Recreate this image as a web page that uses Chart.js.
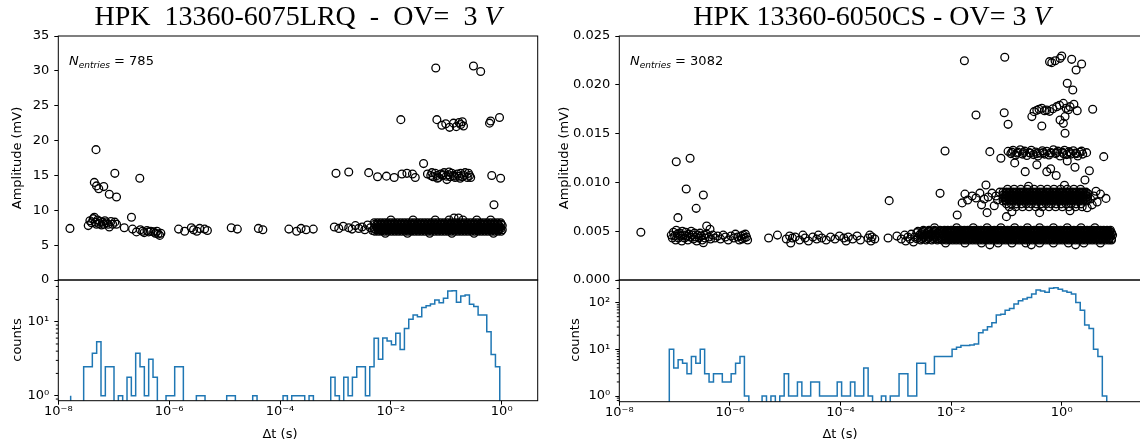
<!DOCTYPE html>
<html>
<head>
<meta charset="utf-8">
<script src="https://cdn.jsdelivr.net/npm/chart.js@4.4.1/dist/chart.umd.min.js"></script>
<style>
  body { margin: 0; width: 1140px; height: 448px; overflow: hidden; background: #fff; position: relative; }
  canvas { position: absolute; }
  .txt { position: absolute; font-family: "DejaVu Sans", sans-serif; font-size: 13px; line-height: 15px; color: #000; white-space: nowrap; }
  .rot { transform: translate(-50%, -50%) rotate(-90deg); }
  .mid { transform: translate(-50%, -50%); }
  .title { position: absolute; font-family: "Liberation Serif", serif; font-size: 28px; line-height: 28px; white-space: pre; transform: translateX(-50%); color: #000; }
  .n sub { font-size: 9px; font-style: italic; vertical-align: -3px; line-height: 0; }
</style>
</head>
<body>
<canvas id="scatL" width="560" height="294" style="left:0;top:0"></canvas>
<canvas id="histL" width="560" height="182" style="left:0;top:266px"></canvas>
<canvas id="scatR" width="600" height="294" style="left:560px;top:0"></canvas>
<canvas id="histR" width="600" height="182" style="left:560px;top:266px"></canvas>

<div class="title" style="left:298px;top:2px">HPK  13360-6075LRQ  -  OV=  3 <i>V</i></div>
<div class="title" style="left:872px;top:2px">HPK 13360-6050CS - OV= 3 <i>V</i></div>
<div class="txt rot" style="left:16px;top:158px">Amplitude (mV)</div>
<div class="txt rot" style="left:16px;top:340px">counts</div>
<div class="txt mid" style="left:280px;top:433px">Δt (s)</div>
<div class="txt rot" style="left:563px;top:158px">Amplitude (mV)</div>
<div class="txt rot" style="left:574px;top:340px">counts</div>
<div class="txt mid" style="left:840px;top:433px">Δt (s)</div>
<div class="txt n" style="left:69px;top:53px"><i>N</i><sub>entries</sub> = 785</div>
<div class="txt n" style="left:630px;top:53px"><i>N</i><sub>entries</sub> = 3082</div>

<script>
// ---- data: scattered points as [log10(dt), amplitude] ----
const leftEarly = [
  [-7.79,7.4],[-7.46,7.8],[-7.43,8.5],[-7.40,8.2],[-7.37,8.8],[-7.35,9.0],[-7.33,8.3],[-7.31,8.0],[-7.29,8.6],[-7.27,8.1],
  [-7.25,8.4],[-7.22,7.9],[-7.20,8.3],[-7.18,8.0],[-7.16,8.5],[-7.13,8.2],[-7.10,8.0],[-7.08,7.6],[-7.05,8.4],[-7.02,8.0],
  [-6.98,8.3],[-6.95,8.0],[-7.32,18.7],[-7.35,14.0],[-7.31,13.5],[-7.27,13.1],[-7.18,13.4],[-7.08,12.3],[-6.95,11.9],
  [-6.98,15.3],[-6.53,14.6],[-6.68,9.0],[-6.81,7.5],[-6.66,7.3],[-6.59,6.9],[-6.52,7.2],[-6.48,7.0],[-6.45,6.8],[-6.40,7.1],
  [-6.37,6.9],[-6.33,7.0],[-6.28,6.9],[-6.25,6.7],[-6.22,7.0],[-6.20,6.6],[-6.17,6.4],[-6.15,6.7]
];
const leftMid = [
  [-5.83,7.3],[-5.72,7.0],[-5.60,7.5],[-5.56,7.2],[-5.50,7.0],[-5.45,7.4],[-5.36,7.3],[-5.31,7.1],[-4.88,7.5],[-4.77,7.3],
  [-4.39,7.4],[-4.31,7.2],[-3.84,7.3],[-3.70,7.0],[-3.62,7.4],[-3.53,7.2],[-3.40,7.3],
  [-2.99,15.3],[-2.76,15.5],[-3.02,7.6],[-2.94,7.4],[-2.86,7.7],[-2.76,7.5],[-2.70,7.3],[-2.64,7.8],[-2.58,7.4],[-2.52,7.6],
  [-2.47,7.2],[-2.42,7.9],[-2.37,7.5],[-2.33,7.1]
];
const leftUpper = [
  [-2.40,15.4],[-2.24,14.8],[-2.08,14.9],[-1.94,14.7],[-1.80,15.2],[-1.71,15.3],[-1.61,15.2],[-1.56,14.7],[-1.41,16.7],
  [-1.34,15.2],[-1.28,15.0],[-1.24,14.8],[-1.20,15.3],[-1.17,15.0],[-1.14,14.7],[-1.10,15.2],[-1.07,15.0],[-1.04,15.4],
  [-1.00,14.9],[-0.99,14.4],[-0.96,15.1],[-0.93,14.8],[-0.90,15.3],[-0.87,15.0],[-0.84,14.7],[-0.80,15.2],[-0.77,14.9],
  [-0.74,15.3],[-0.71,14.8],[-0.68,15.0],[-0.62,14.7],[-0.60,15.3],[-0.58,15.0],[-0.18,15.0],[-0.02,14.6],[-0.14,10.8],
  [-1.26,15.4],[-1.16,14.6],[-1.06,15.1],[-0.95,15.5],[-0.85,14.9],[-0.75,14.6],[-0.66,15.4],[-0.56,14.7],
  [-0.86,8.9],[-0.78,8.9],
  [-1.82,23.0],[-1.17,23.0],[-1.08,22.2],[-1.01,22.4],[-0.94,21.9],[-0.87,22.5],[-0.82,22.0],[-0.77,22.6],[-0.74,22.3],
  [-0.71,22.7],[-0.69,22.1],[-0.22,22.5],[-0.20,22.8],[-0.04,23.3],[-1.19,30.4],[-0.51,30.7],[-0.38,29.9]
];
// log10(dt) positions inside the dense left band
const lbX1 = [-2.30,-2.24,-2.18,-2.12,-2.06,-2.00,-1.94,-1.88,-1.82,-1.76,-1.70,-1.64,-1.58,-1.52,-1.46,-1.40,-1.34,-1.28,-1.22,-1.16,
  -1.10,-1.04,-0.98,-0.92,-0.86,-0.80,-0.74,-0.68,-0.62,-0.56,-0.50,-0.44,-0.38,-0.32,-0.26,-0.20,-0.14,-0.08,-0.02];
const lbX2 = [-2.27,-2.21,-2.15,-2.09,-2.03,-1.97,-1.91,-1.85,-1.79,-1.73,-1.67,-1.61,-1.55,-1.49,-1.43,-1.37,-1.31,-1.25,-1.19,-1.13,
  -1.07,-1.01,-0.95,-0.89,-0.83,-0.77,-0.71,-0.65,-0.59,-0.53,-0.47,-0.41,-0.35,-0.29,-0.23,-0.17,-0.11,-0.05,0.01];
const lbX3 = [-2.29,-2.23,-2.17,-2.11,-2.05,-1.99,-1.93,-1.87,-1.81,-1.75,-1.69,-1.63,-1.57,-1.51,-1.45,-1.39,-1.33,-1.27,-1.21,-1.15,
  -1.09,-1.03,-0.97,-0.91,-0.85,-0.79,-0.73,-0.67,-0.61,-0.55,-0.49,-0.43,-0.37,-0.31,-0.25,-0.19,-0.13,-0.07,-0.01];
const lbX4 = [-2.25,-2.19,-2.13,-2.07,-2.01,-1.95,-1.89,-1.83,-1.77,-1.71,-1.65,-1.59,-1.53,-1.47,-1.41,-1.35,-1.29,-1.23,-1.17,-1.11,
  -1.05,-0.99,-0.93,-0.87,-0.81,-0.75,-0.69,-0.63,-0.57,-0.51,-0.45,-0.39,-0.33,-0.27,-0.21,-0.15,-0.09,-0.03];
// [amplitude, log10(dt) list]
const leftBandRows = [
  [8.6, [-2.00,-1.60,-1.20,-0.95,-0.70,-0.45,-0.20]],
  [8.2, lbX1], [8.0, lbX3], [7.8, lbX2], [7.6, lbX4], [7.4, lbX1], [7.2, lbX2], [7.0, lbX3],
  [6.7, [-2.10,-1.70,-1.30,-0.90,-0.50,-0.15]]
];

const rightEarly = [
  [-7.61,.00489],[-6.97,.01212],[-6.72,.01247],[-6.79,.00932],[-6.48,.00871],[-6.61,.00734],[-6.94,.00639],[-6.42,.00553],
  [-6.36,.0052],[-6.48,.00382],
  [-7.06,.0046],[-7.04,.0043],[-7.02,.0049],[-7.00,.0045],[-6.98,.0041],[-6.97,.0051],[-6.95,.0047],[-6.93,.0043],[-6.91,.0048],
  [-6.89,.0045],[-6.87,.0040],[-6.86,.0050],[-6.84,.0046],[-6.82,.0043],[-6.80,.0049],[-6.78,.0045],[-6.76,.0041],[-6.74,.0047],
  [-6.72,.0044],[-6.70,.0050],[-6.68,.0046],[-6.66,.0042],[-6.64,.0048],[-6.62,.0044],[-6.60,.0040],[-6.58,.0046],[-6.56,.0043],
  [-6.54,.0048],[-6.52,.0045],[-6.50,.0041],[-6.47,.0046],[-6.45,.0043],[-6.42,.0047],[-6.38,.0044],[-6.35,.0042],[-6.31,.0046],
  [-6.27,.0043],[-6.22,.0045],[-6.17,.0042],[-6.12,.0046],[-6.08,.0044],[-6.03,.0041],[-5.98,.0045],[-5.93,.0043],[-5.90,.0047],
  [-5.86,.0044],[-5.83,.0041],[-5.80,.0045],[-5.78,.0042],[-5.76,.0046],[-5.74,.0043],[-5.72,.0047],[-5.70,.0044],[-5.68,.0041]
];
const rightMid = [
  [-5.30,.0043],[-5.14,.0046],[-4.98,.0042],[-4.92,.0045],[-4.90,.0038],[-4.87,.0043],[-4.82,.0044],[-4.74,.0041],[-4.68,.0046],
  [-4.64,.0043],[-4.58,.0040],[-4.50,.0044],[-4.43,.0042],[-4.40,.0046],[-4.34,.0043],[-4.26,.0041],[-4.18,.0044],[-4.10,.0042],
  [-4.02,.0045],[-3.94,.0043],[-3.90,.0040],[-3.86,.0044],[-3.78,.0042],[-3.70,.0045],[-3.64,.0041],[-3.50,.0043],[-3.47,.0046],
  [-3.45,.0040],[-3.43,.0044],[-3.38,.0042],[-3.14,.0043],[-3.12,.00813],[-2.98,.0045],[-2.90,.0042],[-2.84,.0046],[-2.82,.0040],
  [-2.78,.0044],[-2.74,.0042],[-2.72,.0047],[-2.68,.0039],[-2.66,.0044],
  [-2.20,.00888],[-1.89,.00666],[-1.76,.02247],[-2.11,.01322],[-1.55,.0169],[-1.30,.01315],[-1.10,.01247],[-1.03,.02282],
  [-1.04,.01714],[-0.97,.01595],[-1.37,.00973],[-1.35,.0069],[-1.00,.00649]
];
// log10(dt) positions inside the dense bottom band of the right panel
const rlA = [-2.62,-2.52,-2.42,-2.32,-2.24,-2.17,-2.11,-2.05,-2.00,-1.95,-1.90,-1.85,-1.80,-1.75,-1.70,-1.65,-1.60,-1.55,-1.50,-1.45,
  -1.40,-1.35,-1.30,-1.25,-1.20,-1.15,-1.10,-1.05,-1.00,-0.95,-0.90,-0.85,-0.80,-0.75,-0.70,-0.65,-0.60,-0.55,-0.50,-0.45,
  -0.40,-0.35,-0.30,-0.25,-0.20,-0.15,-0.10,-0.05,0.00,0.05,0.10,0.15,0.20,0.25,0.30,0.35,0.40,0.45,0.50,0.55,
  0.60,0.65,0.70,0.75,0.80,0.85,0.90];
const rlB = [-2.57,-2.47,-2.37,-2.28,-2.21,-2.14,-2.08,-2.02,-1.97,-1.92,-1.87,-1.82,-1.77,-1.72,-1.67,-1.62,-1.57,-1.52,-1.47,-1.42,
  -1.37,-1.32,-1.27,-1.22,-1.17,-1.12,-1.07,-1.02,-0.97,-0.92,-0.87,-0.82,-0.77,-0.72,-0.67,-0.62,-0.57,-0.52,-0.47,-0.42,
  -0.37,-0.32,-0.27,-0.22,-0.17,-0.12,-0.07,-0.02,0.03,0.08,0.13,0.18,0.23,0.28,0.33,0.38,0.43,0.48,0.53,0.58,
  0.63,0.68,0.73,0.78,0.83,0.88,0.92];
const rlC = [-2.60,-2.50,-2.40,-2.30,-2.22,-2.15,-2.09,-2.03,-1.98,-1.93,-1.88,-1.83,-1.78,-1.73,-1.68,-1.63,-1.58,-1.53,-1.48,-1.43,
  -1.38,-1.33,-1.28,-1.23,-1.18,-1.13,-1.08,-1.03,-0.98,-0.93,-0.88,-0.83,-0.78,-0.73,-0.68,-0.63,-0.58,-0.53,-0.48,-0.43,
  -0.38,-0.33,-0.28,-0.23,-0.18,-0.13,-0.08,-0.03,0.02,0.07,0.12,0.17,0.22,0.27,0.32,0.37,0.42,0.47,0.52,0.57,
  0.62,0.67,0.72,0.77,0.82,0.87];
const rlD = [-2.50,-2.40,-2.30,-2.20,-2.12,-2.06,-2.00,-1.94,-1.88,-1.82,-1.76,-1.70,-1.64,-1.58,-1.52,-1.46,-1.40,-1.34,-1.28,-1.22,
  -1.16,-1.10,-1.04,-0.98,-0.92,-0.86,-0.80,-0.74,-0.68,-0.62,-0.56,-0.50,-0.44,-0.38,-0.32,-0.26,-0.20,-0.14,-0.08,-0.02,
  0.04,0.10,0.16,0.22,0.28,0.34,0.40,0.46,0.52,0.58,0.64,0.70,0.76,0.82,0.88];
const rlE = [-2.55,-2.45,-2.35,-2.25,-2.16,-2.09,-2.03,-1.97,-1.91,-1.85,-1.79,-1.73,-1.67,-1.61,-1.55,-1.49,-1.43,-1.37,-1.31,-1.25,
  -1.19,-1.13,-1.07,-1.01,-0.95,-0.89,-0.83,-0.77,-0.71,-0.65,-0.59,-0.53,-0.47,-0.41,-0.35,-0.29,-0.23,-0.17,-0.11,-0.05,
  0.01,0.07,0.13,0.19,0.25,0.31,0.37,0.43,0.49,0.55,0.61,0.67,0.73,0.79,0.85,0.90];
const rightLowRows = [
  [0.00535, [-2.30,-1.90,-1.60,-1.35,-1.10,-0.85,-0.62,-0.40,-0.15,0.10,0.35,0.60]],
  [0.0051, rlD], [0.00498, rlC], [0.00485, rlA], [0.00473, rlE], [0.0046, rlB],
  [0.00448, rlD], [0.00435, rlC], [0.00423, rlA], [0.0041, rlE],
  [0.0038, [-2.10,-1.75,-1.45,-1.15,-0.90,-0.65,-0.40,-0.15,0.12,0.40,0.70]],
  [0.0036, [-1.30,-0.55,0.25]]
];
// log10(dt) positions inside the band around 0.0085 mV
const rmA = [-1.06,-1.00,-0.94,-0.88,-0.82,-0.76,-0.70,-0.64,-0.58,-0.52,-0.46,-0.40,-0.34,-0.28,-0.22,-0.16,-0.10,-0.04,
  0.02,0.08,0.14,0.20,0.26,0.32,0.38,0.44];
const rmB = [-1.03,-0.97,-0.91,-0.85,-0.79,-0.73,-0.67,-0.61,-0.55,-0.49,-0.43,-0.37,-0.31,-0.25,-0.19,-0.13,-0.07,-0.01,
  0.05,0.11,0.17,0.23,0.29,0.35,0.41,0.47];
const rmC = [-1.00,-0.91,-0.82,-0.73,-0.64,-0.55,-0.46,-0.37,-0.28,-0.19,-0.10,-0.01,0.08,0.17,0.26,0.35];
const rightMidRows = [
  [0.0093, [-0.98,-0.86,-0.74,-0.62,-0.50,-0.38,-0.26,-0.14,-0.02,0.10,0.22,0.34]],
  [0.0090, rmA], [0.00885, rmB], [0.0087, rmA], [0.00855, rmB], [0.0084, rmA], [0.00825, rmB], [0.0081, rmA],
  [0.0078, rmC],
  [0.0075, [-0.95,-0.83,-0.71,-0.59,-0.47,-0.35,-0.23,-0.11,0.01,0.13,0.25,0.37]]
];
const rightMidEdges = [
  [-1.75,.0088],[-1.70,.0082],[-1.62,.0086],[-1.55,.0084],[-1.48,.0089],[-1.40,.0083],[-1.33,.0085],[-1.26,.0089],[-1.19,.0086],
  [-1.16,.0082],[-1.12,.0090],[-1.80,.0079],[-1.45,.0077],[-1.22,.0076],[0.48,.0088],[0.52,.0083],[0.58,.0086],[0.64,.0080],
  [0.70,.0088],[0.80,.00836],[0.55,.0077],[0.46,.0074],[0.62,.0091],[-0.90,.0070],[-0.40,.0069],[0.15,.0071],[-0.60,.0096],
  [0.05,.0097]
];
const rightHigh = [
  [-0.97,.01318],[-0.92,.01295],[-0.88,.01330],[-0.83,.01280],[-0.79,.01310],[-0.75,.01335],[-0.71,.01290],[-0.67,.01320],
  [-0.63,.01275],[-0.59,.01305],[-0.55,.01330],[-0.51,.01285],[-0.47,.01312],[-0.43,.01270],[-0.39,.01300],[-0.35,.01325],
  [-0.31,.01290],[-0.27,.01318],[-0.23,.01280],[-0.19,.01305],[-0.15,.01335],[-0.11,.01295],[-0.07,.01320],[-0.03,.01270],
  [0.01,.01310],[0.05,.01330],[0.09,.01285],[0.13,.01315],[0.17,.01290],[0.21,.01325],[0.25,.01300],[0.29,.01270],[0.33,.01310],
  [0.38,.01290],[0.45,.01305],[0.76,.01264],[-0.66,.0111],[-0.27,.0111],[0.24,.01155],[0.42,.01025],[0.50,.0112],[-0.85,.01200],
  [-0.45,.01180],[0.10,.01220],[-0.10,.0107],[-0.20,.01140],
  [-0.90,.01310],[-0.81,.01300],[-0.69,.01305],[-0.57,.01300],[-0.45,.01295],[-0.33,.01305],[-0.21,.01300],[-0.09,.01305],
  [0.03,.01295],[0.15,.01305],[0.27,.01295],[0.36,.01320],
  [-0.54,.01674],[-0.50,.01725],[-0.45,.01740],[-0.41,.01749],[-0.36,.01760],[-0.31,.01735],[-0.27,.01742],[-0.22,.01728],
  [-0.16,.01755],[-0.09,.01776],[-0.04,.01790],[0.03,.0181],[0.08,.01760],[0.12,.01745],[0.15,.01776],[0.22,.01800],[0.28,.01735],
  [0.06,.01674],[0.03,.01605],[0.06,.01503],[-0.36,.01578],[0.56,.01749],[-0.03,.01640],
  [-0.22,.02237],[-0.18,.02227],[-0.12,.02247],[-0.03,.02271],[0.00,.02295],[0.18,.02261],[0.36,.02213],[0.26,.02152],
  [0.10,.02015],[0.20,.01947]
];

// ---- histograms: log10 bin start, bin width, counts per bin ----
const binsLeft = { lo: -7.777, width: 0.0782 };
const countsLeft = [
  1, 0, 0, 0, 2.47, 2.47, 3.74, 5.37, 1, 2.47,
  2.47, 0, 1, 0, 1.77, 1, 3.74, 2.47, 1, 3.1,
  1.77, 0, 0, 1, 1, 2.47, 2.47, 0, 0, 0,
  1, 1, 0, 0, 0, 0, 0, 1, 1, 0,
  0, 0, 0, 1, 0, 0, 0, 0, 0, 0,
  1, 0, 1, 1, 1, 0, 1, 0, 0, 0,
  0, 1.77, 1, 0, 1.77, 1, 1.77, 2.47, 2.47, 1,
  2.47, 5.96, 3.1, 6.0, 5.5, 4.9, 7.0, 4.2, 8.1, 10.8,
  12.3, 11.7, 15.6, 16.5, 17.4, 19.6, 18.1, 20.7, 26, 26.2,
  18.3, 22.2, 23, 17.2, 16, 12.3, 12.3, 7.3, 3.6, 2.47
];
const binsRight = { lo: -7.096, width: 0.0799 };
const countsRight = [
  3, 10, 4, 6, 5, 3, 7, 5, 10, 3,
  2, 3, 3, 2, 2, 3, 5, 7, 1, 0,
  0, 0, 1, 0, 1, 0, 1, 3, 1, 1,
  2, 1, 1, 2, 2, 1, 1, 1, 1, 2,
  1, 1, 2, 1, 1, 4, 1, 0, 0, 1,
  0, 1, 1, 3, 3, 1, 1, 5, 5, 3,
  3, 7, 7, 7, 7, 10, 11, 12, 12, 12.4,
  13, 22.7, 26, 30.5, 37, 54, 56, 69, 75, 93,
  110, 119, 129, 153, 186, 177, 166, 202, 209, 192,
  177, 166, 153, 100, 69, 33, 28, 10, 7, 1
];

const xTickExp = [-8, -6, -4, -2, 0];
const histTicksLeft = [1, 10];
const histMinorLeft = [0.9, 2, 3, 4, 5, 6, 7, 8, 9, 20, 30];
const histTicksRight = [1, 10, 100];
const histMinorRight = [0.8, 0.9, 2, 3, 4, 5, 6, 7, 8, 9, 20, 30, 40, 50, 60, 70, 80, 90, 200, 300];

// ---- helpers ----
Chart.defaults.font.family = '"DejaVu Sans", sans-serif';
Chart.defaults.font.size = 13;
Chart.defaults.color = '#000';

const SUP = { '-': '⁻', '0': '⁰', '1': '¹', '2': '²', '3': '³', '4': '⁴', '5': '⁵', '6': '⁶', '7': '⁷', '8': '⁸', '9': '⁹' };
const pow10Label = e => '10' + String(e).split('').map(c => SUP[c]).join('');

const rowsToPairs = rows => rows.flatMap(([a, xs]) => xs.map(x => [x, a]));
const toPts = arr => arr.map(([lx, a]) => ({ x: Math.pow(10, lx), y: a }));

function histPoints(bins, counts) {
  const floor = 0.01;
  const pts = [{ x: Math.pow(10, bins.lo), y: floor }];
  counts.forEach((c, i) => pts.push({ x: Math.pow(10, bins.lo + i * bins.width), y: c > 0 ? c : floor }));
  pts.push({ x: Math.pow(10, bins.lo + counts.length * bins.width), y: floor });
  return pts;
}

const GRID = { drawOnChartArea: false, drawTicks: true, tickLength: 4, tickColor: '#000', tickWidth: 1 };

// frame around the axes + short minor ticks on the log y axis
const framePlugin = {
  id: 'frame',
  afterDraw(chart, args, opts) {
    const { ctx, chartArea: a } = chart;
    ctx.save();
    ctx.strokeStyle = '#000';
    ctx.lineWidth = 1;
    ctx.strokeRect(a.left, a.top, a.right - a.left, a.bottom - a.top);
    if (opts.minor) {
      const y = chart.scales.y;
      ctx.beginPath();
      opts.minor.forEach(v => {
        const p = y.getPixelForValue(v);
        if (p > a.top && p < a.bottom) { ctx.moveTo(a.left, p); ctx.lineTo(a.left - 2.5, p); }
      });
      ctx.stroke();
    }
    ctx.restore();
  }
};

function scatterChart(id, sets, xMax, yOpts, pad) {
  new Chart(document.getElementById(id), {
    type: 'scatter',
    data: {
      datasets: sets.map(s => ({
        data: toPts(s),
        pointRadius: 3.9,
        pointHoverRadius: 3.9,
        pointBorderWidth: 1.3,
        pointBorderColor: '#000',
        pointBackgroundColor: 'rgba(0,0,0,0)'
      }))
    },
    options: {
      responsive: false,
      animation: false,
      events: [],
      layout: { padding: pad },
      plugins: { legend: { display: false }, tooltip: { enabled: false }, frame: {} },
      scales: {
        x: { type: 'logarithmic', display: false, min: 1e-8, max: xMax, bounds: 'data' },
        y: Object.assign({
          type: 'linear', grid: GRID, border: { display: false },
          afterFit: s => { s.width = 50; }
        }, yOpts)
      }
    },
    plugins: [framePlugin]
  });
}

function histChart(id, bins, counts, xMax, yMin, yMax, majors, minors, pad, xH) {
  new Chart(document.getElementById(id), {
    type: 'line',
    data: {
      datasets: [{
        data: histPoints(bins, counts),
        stepped: 'after',
        borderColor: '#1f77b4',
        borderWidth: 1.5,
        pointRadius: 0,
        fill: false
      }]
    },
    options: {
      responsive: false,
      animation: false,
      events: [],
      layout: { padding: pad },
      plugins: { legend: { display: false }, tooltip: { enabled: false }, frame: { minor: minors } },
      scales: {
        x: {
          type: 'logarithmic', min: 1e-8, max: xMax, bounds: 'data',
          grid: GRID, border: { display: false },
          afterBuildTicks: s => { s.ticks = xTickExp.map(e => ({ value: Math.pow(10, e) })); },
          ticks: { autoSkip: false, maxRotation: 0, padding: -1, callback: (v, i) => pow10Label(xTickExp[i]) },
          afterFit: s => { s.height = xH; }
        },
        y: {
          type: 'logarithmic', min: yMin, max: yMax, bounds: 'data',
          grid: GRID, border: { display: false },
          afterBuildTicks: s => { s.ticks = majors.map(v => ({ value: v })); },
          ticks: { autoSkip: false, padding: 5, callback: (v, i) => pow10Label(Math.round(Math.log10(majors[i]))) },
          afterFit: s => { s.width = 50; }
        }
      }
    },
    plugins: [framePlugin]
  });
}

// ---- left panel: HPK 13360-6075LRQ ----
scatterChart('scatL', [leftEarly, leftMid, rowsToPairs(leftBandRows), leftUpper], Math.pow(10, 0.649),
  { min: 0, max: 35, ticks: { stepSize: 5, padding: 5 } },
  { left: 8.3, right: 22.3, top: 36, bottom: 14 });
histChart('histL', binsLeft, countsLeft, Math.pow(10, 0.649), Math.pow(10, -0.068), Math.pow(10, 1.564),
  histTicksLeft, histMinorLeft, { left: 8.3, right: 22.3, top: 14, bottom: 0 }, 47.3);

// ---- right panel: HPK 13360-6050CS ----
scatterChart('scatR', [rightEarly, rightMid, rowsToPairs(rightLowRows), rowsToPairs(rightMidRows), rightMidEdges, rightHigh],
  Math.pow(10, 1.6),
  { min: 0, max: 0.025, ticks: { stepSize: 0.005, padding: 5, callback: v => v.toFixed(3) } },
  { left: 9.3, right: 9.8, top: 36, bottom: 14 });
histChart('histR', binsRight, countsRight, Math.pow(10, 1.6), Math.pow(10, -0.122), Math.pow(10, 2.484),
  histTicksRight, histMinorRight, { left: 9.3, right: 9.8, top: 14, bottom: 0 }, 46.3);
</script>
</body>
</html>
